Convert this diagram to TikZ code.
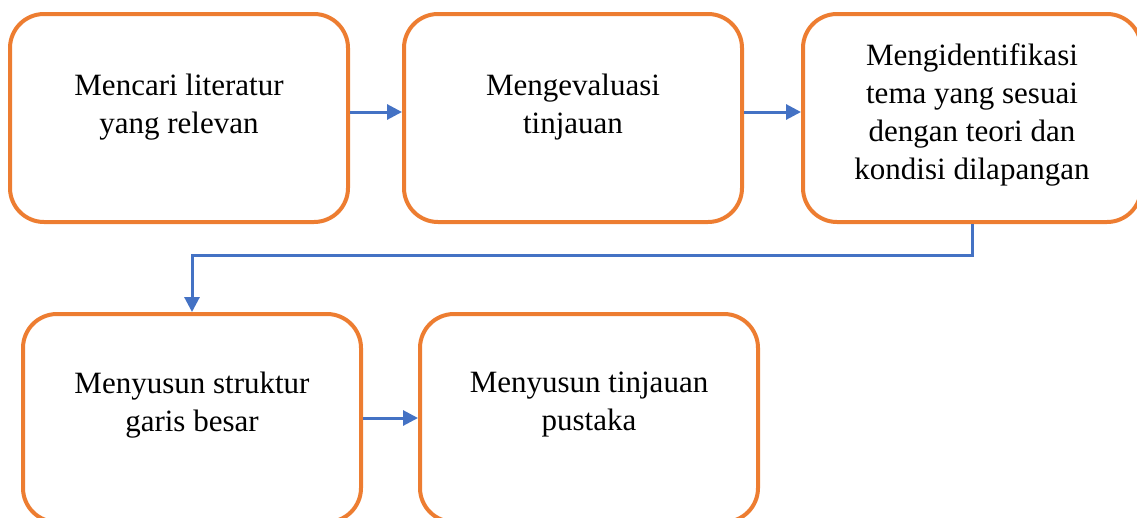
\documentclass[tikz,border=0pt]{standalone}
\usepackage{fontspec}
\setmainfont{Liberation Serif}
\usetikzlibrary{positioning, arrows.meta}
\definecolor{boxorange}{HTML}{ED7D31}
\definecolor{linkblue}{HTML}{4472C4}
\tikzset{
  x=1pt, y=-1pt,
  stage/.style={draw=boxorange, line width=4pt, rounded corners=34pt,
    minimum width=338pt, minimum height=208pt, fill=white},
  caption/.style={align=center, font=\fontsize{31}{38}\selectfont},
  link/.style={draw=linkblue, line width=3pt,
    -{Triangle[length=15pt, width=15pt]}},
}

\begin{document}
\begin{tikzpicture}
  \useasboundingbox (0,0) rectangle (1137,517);

  % stages
  \node[stage] (cari) at (179,118) {};
  \node[stage, right=52pt of cari] (evaluasi) {};
  \node[stage, right=57pt of evaluasi] (tema) {};
  \node[stage] (struktur) at (192,418) {};
  \node[stage, right=55pt of struktur] (tinjauan) {};

  % captions
  \node[caption] (cari-t) at ([yshift=11pt]cari.center) {Mencari literatur\\yang relevan};
  \node[caption] (evaluasi-t) at ([yshift=11pt]evaluasi.center) {Mengevaluasi\\tinjauan};
  \node[caption] (tema-t) at ([yshift=3pt]tema.center) {Mengidentifikasi\\tema yang sesuai\\dengan teori dan\\kondisi dilapangan};
  \node[caption] (struktur-t) at ([yshift=13pt]struktur.center) {Menyusun struktur\\garis besar};
  \node[caption] (tinjauan-t) at ([yshift=13pt]tinjauan.center) {Menyusun tinjauan\\pustaka};

  % links
  \draw[link] ([yshift=6pt]cari.east) -- ([yshift=6pt]evaluasi.west);
  \draw[link] ([yshift=6pt]evaluasi.east) -- ([yshift=6pt]tema.west);
  \draw[link] (tema.south) -- ++(0,31) -| (struktur.north);
  \draw[link] (struktur.east) -- (tinjauan.west);

\end{tikzpicture}
\end{document}
